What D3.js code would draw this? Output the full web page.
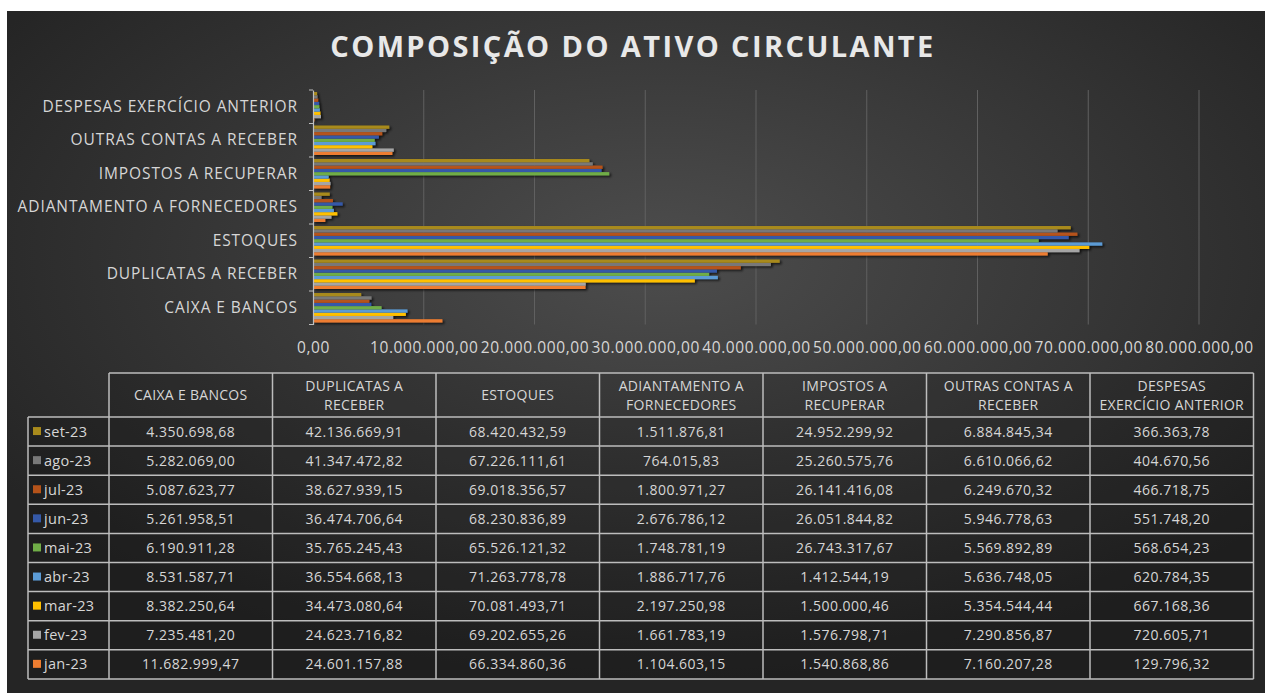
<!DOCTYPE html>
<html>
<head>
<meta charset="utf-8">
<script src="https://cdn.jsdelivr.net/npm/d3@7"></script>
<style>
  html, body { margin: 0; padding: 0; background: #fff; }
  svg { display: block; font-family: 'Open Sans', sans-serif; }
</style>
</head>
<body>
<div id="chart"></div>
<script>
const categories = [
  'CAIXA E BANCOS',
  'DUPLICATAS A RECEBER',
  'ESTOQUES',
  'ADIANTAMENTO A FORNECEDORES',
  'IMPOSTOS A RECUPERAR',
  'OUTRAS CONTAS A RECEBER',
  'DESPESAS EXERCÍCIO ANTERIOR',
];
const headerLines = [
  ['CAIXA E BANCOS'],
  ['DUPLICATAS A', 'RECEBER'],
  ['ESTOQUES'],
  ['ADIANTAMENTO A', 'FORNECEDORES'],
  ['IMPOSTOS A', 'RECUPERAR'],
  ['OUTRAS CONTAS A', 'RECEBER'],
  ['DESPESAS', 'EXERCÍCIO ANTERIOR'],
];
const months = ['jan-23', 'fev-23', 'mar-23', 'abr-23', 'mai-23', 'jun-23', 'jul-23', 'ago-23', 'set-23'];
const monthColors = ['#ed7d31', '#a5a5a5', '#ffc000', '#5b9bd5', '#70ad47', '#3559a8', '#b5531a', '#787878', '#a88a1c'];

const jan23 = [11682999.47, 24601157.88, 66334860.36, 1104603.15, 1540868.86, 7160207.28, 129796.32];
const fev23 = [7235481.20, 24623716.82, 69202655.26, 1661783.19, 1576798.71, 7290856.87, 720605.71];
const mar23 = [8382250.64, 34473080.64, 70081493.71, 2197250.98, 1500000.46, 5354544.44, 667168.36];
const abr23 = [8531587.71, 36554668.13, 71263778.78, 1886717.76, 1412544.19, 5636748.05, 620784.35];
const mai23 = [6190911.28, 35765245.43, 65526121.32, 1748781.19, 26743317.67, 5569892.89, 568654.23];
const jun23 = [5261958.51, 36474706.64, 68230836.89, 2676786.12, 26051844.82, 5946778.63, 551748.20];
const jul23 = [5087623.77, 38627939.15, 69018356.57, 1800971.27, 26141416.08, 6249670.32, 466718.75];
const ago23 = [5282069.00, 41347472.82, 67226111.61, 764015.83, 25260575.76, 6610066.62, 404670.56];
const set23 = [4350698.68, 42136669.91, 68420432.59, 1511876.81, 24952299.92, 6884845.34, 366363.78];
const seriesValues = [jan23, fev23, mar23, abr23, mai23, jun23, jul23, ago23, set23];

const xTicks = [0, 10e6, 20e6, 30e6, 40e6, 50e6, 60e6, 70e6, 80e6];

const W = 1265, H = 693;
const ptBR = d3.formatLocale({ decimal: ',', thousands: '.', grouping: [3], currency: ['R$', ''] });
const fmt = ptBR.format(',.2f');
const textColor = '#d6d6d6';

const series = months.map((m, i) => ({ month: m, color: monthColors[i], values: seriesValues[i] }));
const bars = [];
series.forEach((s) => s.values.forEach((v, ci) => bars.push({ month: s.month, color: s.color, category: categories[ci], value: v })));

const svg = d3.select('#chart').append('svg').attr('width', W).attr('height', H);
const defs = svg.append('defs');
const grad = defs.append('radialGradient').attr('id', 'bg').attr('cx', '52%').attr('cy', '36%').attr('r', '62%');
grad.append('stop').attr('offset', '0%').attr('stop-color', '#4d4d4d');
grad.append('stop').attr('offset', '100%').attr('stop-color', '#252525');
const shadow = defs.append('filter').attr('id', 'shadow').attr('x', '-5%').attr('y', '-50%').attr('width', '120%').attr('height', '250%');
shadow.append('feDropShadow').attr('dx', 2).attr('dy', 1.5).attr('stdDeviation', 0.8).attr('flood-color', '#000').attr('flood-opacity', 0.7);

svg.append('rect').attr('x', 7).attr('y', 11).attr('width', W - 7).attr('height', H - 11).attr('fill', 'url(#bg)');

// title
svg.append('text')
  .attr('x', 633).attr('y', 57)
  .attr('text-anchor', 'middle')
  .attr('fill', '#e8e8e8')
  .attr('font-size', 29).attr('font-weight', 700)
  .attr('letter-spacing', 2.4)
  .text('COMPOSIÇÃO DO ATIVO CIRCULANTE');

// scales
const x = d3.scaleLinear().domain([0, 80e6]).range([313, 1199]);
const y = d3.scaleBand().domain(categories.slice().reverse()).range([90, 324.5]).paddingInner(0.12).paddingOuter(0.06);
const yInner = d3.scaleBand().domain(months.slice().reverse()).range([0, y.bandwidth()]);

// gridlines
svg.append('g').selectAll('line').data(xTicks.slice(1)).join('line')
  .attr('x1', (d) => x(d)).attr('x2', (d) => x(d))
  .attr('y1', 90).attr('y2', 324.5)
  .attr('stroke', '#606060').attr('stroke-width', 1);

// bars
svg.append('g').attr('filter', 'url(#shadow)')
  .selectAll('rect').data(bars).join('rect')
  .attr('x', x(0))
  .attr('y', (d) => y(d.category) + yInner(d.month))
  .attr('width', (d) => x(d.value) - x(0))
  .attr('height', yInner.bandwidth())
  .attr('fill', (d) => d.color);

// x axis labels
const xAxis = svg.append('g').attr('transform', 'translate(0,324.5)')
  .call(d3.axisBottom(x).tickValues(xTicks).tickFormat(fmt).tickSize(0).tickPadding(17));
xAxis.select('.domain').remove();
xAxis.selectAll('text').attr('fill', textColor).attr('font-size', 15.5).attr('letter-spacing', 0.6)
  .attr('font-family', "'Open Sans', sans-serif");

// y axis
const yAxis = svg.append('g').attr('transform', 'translate(313,0)')
  .call(d3.axisLeft(y).tickSize(0).tickPadding(15));
yAxis.select('.domain').attr('stroke', '#bfbfbf').attr('stroke-width', 1.2);
yAxis.selectAll('text').attr('fill', textColor).attr('font-size', 15.5).attr('letter-spacing', 0.9)
  .attr('font-family', "'Open Sans', sans-serif");
const boundaries = categories.map((c) => y(c) - y.step() * y.paddingInner() / 2).concat([324.5]);
yAxis.append('g').selectAll('line').data(boundaries).join('line')
  .attr('x1', -4).attr('x2', 0).attr('y1', (d) => d).attr('y2', (d) => d)
  .attr('stroke', '#bfbfbf');

// data table
const tableLeft = 28, firstColW = 81, colW = 163.5;
const headTop = 373, headH = 44, rowH = 29.1;
const colX = (i) => tableLeft + firstColW + i * colW;
const rowsTop = headTop + headH;
const tableRows = series.slice().reverse();
const tbl = svg.append('g').attr('font-family', "'Open Sans', sans-serif");
const lineColor = '#bdbdbd';

tbl.append('rect').attr('x', colX(0)).attr('y', headTop).attr('width', colW * 7).attr('height', headH)
  .attr('fill', 'rgba(0,0,0,0.12)');
tbl.append('rect').attr('x', tableLeft).attr('y', rowsTop).attr('width', firstColW + colW * 7).attr('height', rowH * 9)
  .attr('fill', 'rgba(0,0,0,0.18)');

// header text
headerLines.forEach((lines, i) => {
  const cx = colX(i) + colW / 2;
  const t = tbl.append('text').attr('text-anchor', 'middle').attr('fill', textColor)
    .attr('font-size', 14).attr('letter-spacing', 0.3);
  const startY = headTop + headH / 2 + 5 - (lines.length - 1) * 9.5;
  lines.forEach((l, j) => t.append('tspan').attr('x', cx).attr('y', startY + j * 19).text(l));
});

// rows
tableRows.forEach((s, r) => {
  const cy = rowsTop + r * rowH + rowH / 2;
  tbl.append('rect').attr('x', tableLeft + 5).attr('y', cy - 4.5).attr('width', 8).attr('height', 8).attr('fill', s.color);
  tbl.append('text').attr('x', tableLeft + 16).attr('y', cy + 5).attr('fill', textColor)
    .attr('font-size', 14.5).attr('letter-spacing', 0.3).text(s.month);
  s.values.forEach((v, ci) => {
    tbl.append('text').attr('x', colX(ci) + colW / 2).attr('y', cy + 5).attr('text-anchor', 'middle')
      .attr('fill', textColor).attr('font-size', 14).attr('letter-spacing', 0.5).text(fmt(v));
  });
});

// grid lines of the table
const hLines = [];
hLines.push({ x1: colX(0), x2: colX(7), y: headTop });
for (let r = 0; r <= 9; r++) hLines.push({ x1: tableLeft, x2: colX(7), y: rowsTop + r * rowH });
tbl.append('g').selectAll('line').data(hLines).join('line')
  .attr('x1', (d) => d.x1).attr('x2', (d) => d.x2).attr('y1', (d) => d.y).attr('y2', (d) => d.y)
  .attr('stroke', lineColor).attr('stroke-width', 1.5);
const vLines = [{ x: tableLeft, y1: rowsTop }];
for (let c = 0; c <= 7; c++) vLines.push({ x: colX(c), y1: headTop });
tbl.append('g').selectAll('line').data(vLines).join('line')
  .attr('x1', (d) => d.x).attr('x2', (d) => d.x).attr('y1', (d) => d.y1).attr('y2', rowsTop + 9 * rowH)
  .attr('stroke', lineColor).attr('stroke-width', 1.5);
</script>
</body>
</html>
